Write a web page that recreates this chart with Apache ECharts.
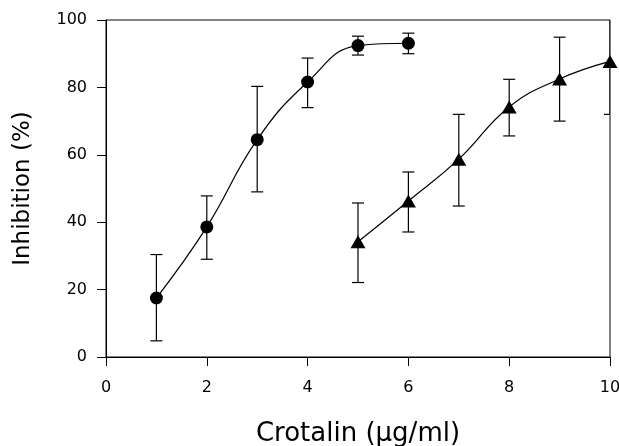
<!DOCTYPE html>
<html>
<head>
<meta charset="utf-8">
<script src="https://cdn.jsdelivr.net/npm/echarts@6/dist/echarts.min.js"></script>
<style>
  html, body { margin: 0; padding: 0; background: #fff; }
  #chart { width: 619px; height: 446px; }
</style>
</head>
<body>
<div id="chart"></div>
<script>
// Inhibition (%) versus Crotalin concentration (µg/ml), mean with error range
const doseCircle   = [1, 2, 3, 4, 5, 6];
const meanCircle   = [17.5, 38.6, 64.5, 81.6, 92.4, 93.1];
const lowCircle    = [4.8, 29.0, 49.0, 74.0, 89.6, 90.0];
const highCircle   = [30.4, 47.8, 80.3, 88.7, 95.2, 96.1];

const doseTriangle = [5, 6, 7, 8, 9, 10];
const meanTriangle = [34.2, 46.3, 58.7, 74.2, 82.5, 87.7];
const lowTriangle  = [22.1, 37.1, 44.8, 65.6, 70.0, 72.0];
const highTriangle = [45.7, 54.9, 72.0, 82.4, 94.9, 103.4];

const xTickValues = [0, 2, 4, 6, 8, 10];
const yTickValues = [0, 20, 40, 60, 80, 100];

const FONT = '"DejaVu Sans", Verdana, sans-serif';
const INK = '#000';

const pairs = (xs, ys) => xs.map((x, i) => [x, ys[i]]);
const ranges = (xs, lo, hi) => xs.map((x, i) => [x, lo[i], hi[i]]);

// vertical whisker with a short cap at each end
function errorBar(params, api) {
  const x = api.value(0);
  const top = api.coord([x, api.value(2)]);
  const bot = api.coord([x, api.value(1)]);
  const half = 6;
  const style = { stroke: INK, lineWidth: 1.2 };
  return {
    type: 'group',
    children: [
      { type: 'line', shape: { x1: top[0], y1: top[1], x2: bot[0], y2: bot[1] }, style },
      { type: 'line', shape: { x1: top[0] - half, y1: top[1], x2: top[0] + half, y2: top[1] }, style },
      { type: 'line', shape: { x1: bot[0] - half, y1: bot[1], x2: bot[0] + half, y2: bot[1] }, style }
    ]
  };
}

const chart = echarts.init(document.getElementById('chart'));
chart.setOption({
  animation: false,
  backgroundColor: '#fff',
  grid: {
    left: 106, right: 9, top: 20, bottom: 89,
    outerBoundsMode: 'none',
    show: true, borderColor: INK, borderWidth: 1
  },
  xAxis: {
    type: 'value',
    min: xTickValues[0],
    max: xTickValues[xTickValues.length - 1],
    interval: 2,
    name: 'Crotalin (µg/ml)',
    nameLocation: 'middle',
    nameGap: 64,
    nameTextStyle: { fontFamily: FONT, fontSize: 26, color: INK },
    axisLine: { lineStyle: { color: INK, width: 1 } },
    axisTick: { inside: false, length: 9, lineStyle: { color: INK } },
    axisLabel: { fontFamily: FONT, fontSize: 16, color: INK, margin: 23 },
    splitLine: { show: false }
  },
  yAxis: {
    type: 'value',
    min: yTickValues[0],
    max: yTickValues[yTickValues.length - 1],
    interval: 20,
    name: 'Inhibition (%)',
    nameLocation: 'middle',
    nameGap: 71,
    nameTextStyle: { fontFamily: FONT, fontSize: 23, color: INK },
    axisLine: { lineStyle: { color: INK, width: 1 } },
    axisTick: { inside: false, length: 9, lineStyle: { color: INK } },
    axisLabel: { fontFamily: FONT, fontSize: 16, color: INK, margin: 19 },
    splitLine: { show: false }
  },
  series: [
    {
      type: 'custom',
      name: 'range circle',
      clip: true,
      renderItem: errorBar,
      data: ranges(doseCircle, lowCircle, highCircle),
      z: 2
    },
    {
      type: 'custom',
      name: 'range triangle',
      clip: true,
      renderItem: errorBar,
      data: ranges(doseTriangle, lowTriangle, highTriangle),
      z: 2
    },
    {
      type: 'line',
      name: 'circle',
      data: pairs(doseCircle, meanCircle),
      smooth: 0.45,
      symbol: 'circle',
      symbolSize: 13,
      showAllSymbol: true,
      clip: false,
      lineStyle: { color: INK, width: 1.2 },
      itemStyle: { color: INK },
      z: 3
    },
    {
      type: 'line',
      name: 'triangle',
      data: pairs(doseTriangle, meanTriangle),
      smooth: 0.45,
      symbol: 'triangle',
      symbolSize: [15, 13],
      showAllSymbol: true,
      clip: false,
      lineStyle: { color: INK, width: 1.2 },
      itemStyle: { color: INK },
      z: 3
    }
  ]
});
</script>
</body>
</html>
